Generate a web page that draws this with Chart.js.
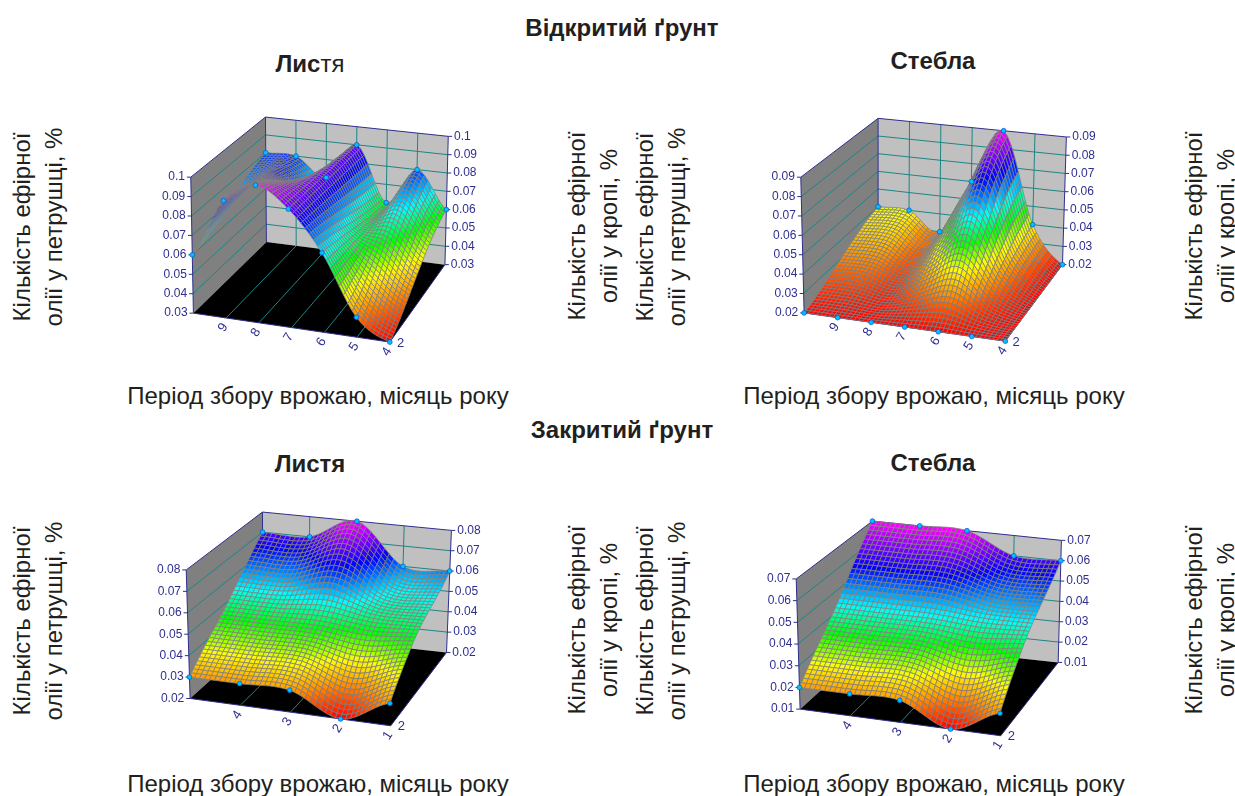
<!DOCTYPE html>
<html>
<head>
<meta charset="utf-8">
<script src="https://cdn.jsdelivr.net/npm/chart.js@4"></script>
<style>
  html, body { margin: 0; padding: 0; background: #fff; }
  body { position: relative; width: 1235px; height: 796px; overflow: hidden; font-family: "Liberation Sans", Arial, sans-serif; color: #231f20; }
  canvas { position: absolute; }
  .txt { position: absolute; white-space: nowrap; text-align: center; transform: translate(-50%, -50%); }
  .head { font-weight: bold; font-size: 24px; }
  .head span { font-weight: normal; }
  .xtitle { font-size: 24px; }
  .ytitle { font-size: 24px; line-height: 32px; transform: translate(-50%, -50%) rotate(-90deg); }
</style>
</head>
<body>
<script>
// values: one row of the surface for each series (front = 1, back = 2)
const openMonths = ['', '9', '8', '7', '6', '5', '4'];
const closedMonths = ['', '4', '3', '2', '1'];

const openLeafFront = [0.06, 0.09, 0.10, 0.09, 0.07, 0.04, 0.03];
const openLeafBack = [0.08, 0.08, 0.07, 0.09, 0.06, 0.08, 0.06];
const openLeafTicks = [0.03, 0.04, 0.05, 0.06, 0.07, 0.08, 0.09, 0.1];

const openStemFront = [0.02, 0.02, 0.02, 0.02, 0.02, 0.02, 0.02];
const openStemBack = [0.04, 0.04, 0.03, 0.06, 0.09, 0.04, 0.02];
const openStemTicks = [0.02, 0.03, 0.04, 0.05, 0.06, 0.07, 0.08, 0.09];

const closedLeafFront = [0.03, 0.03, 0.03, 0.02, 0.03];
const closedLeafBack = [0.07, 0.07, 0.08, 0.06, 0.06];
const closedLeafTicks = [0.02, 0.03, 0.04, 0.05, 0.06, 0.07, 0.08];

const closedStemFront = [0.02, 0.02, 0.02, 0.01, 0.02];
const closedStemBack = [0.07, 0.07, 0.07, 0.06, 0.06];
const closedStemTicks = [0.01, 0.02, 0.03, 0.04, 0.05, 0.06, 0.07];

// box corners in page pixels: fl/fr/bl/br floor, t* the same corners at the top value
// reach = how far into the depth a row's bumps carry before they flatten out
const panels = [
  { months: openMonths, front: openLeafFront, back: openLeafBack, ticks: openLeafTicks, cols: 48, reach: 1,
    fl: [190, 316], fr: [391.7, 346], bl: [265, 242.3], br: [448.3, 265.7],
    tfl: [187.3, 175], tfr: [386.5, 200], tbl: [264, 112.7], tbr: [451.7, 132.7] },
  { months: openMonths, front: openStemFront, back: openStemBack, ticks: openStemTicks, cols: 48, reach: 1,
    fl: [800.7, 315.7], fr: [1007.3, 345], bl: [876.7, 242.3], br: [1066, 265.7],
    tfl: [797.3, 175], tfr: [1002, 200], tbl: [876.7, 114], tbr: [1070, 133.3] },
  { months: closedMonths, front: closedLeafFront, back: closedLeafBack, ticks: closedLeafTicks, cols: 40, reach: 0.6,
    fl: [186.7, 701], fr: [392.7, 729.3], bl: [261.7, 632.7], br: [450, 653.3],
    tfl: [182.7, 567.7], tfr: [388, 590], tbl: [261, 507.7], tbr: [455, 526.7] },
  { months: closedMonths, front: closedStemFront, back: closedStemBack, ticks: closedStemTicks, cols: 40, reach: 0.6,
    fl: [796.7, 711.7], fr: [1002.7, 739.3], bl: [871.7, 642.7], br: [1061.7, 663.3],
    tfl: [792.7, 576.7], tfr: [998, 600], tbl: [871, 516.7], tbr: [1065, 536.7] }
];

const headings = [
  ['Відкритий ґрунт', 622, 28], ['Лис<span>тя</span>', 310, 64], ['Стебла', 933, 61],
  ['Закритий ґрунт', 622, 430], ['Листя', 310, 464], ['Стебла', 933, 463]
];
const xTitle = 'Період збору врожаю, місяць року';
const xTitlePos = [[318, 396], [934, 396], [318, 784], [934, 784]];
const parsleyTitle = 'Кількість ефірної<br>олії у петрушці, %';
const dillTitle = 'Кількість ефірної<br>олії у кропі, %';
const yTitlePos = [
  [parsleyTitle, 38, 227], [dillTitle, 593, 226], [parsleyTitle, 661, 227], [dillTitle, 1210, 226],
  [parsleyTitle, 38, 621], [dillTitle, 593, 620], [parsleyTitle, 661, 621], [dillTitle, 1210, 620]
];

function addText(html, cls, x, y) {
  const el = document.createElement('div');
  el.className = 'txt ' + cls;
  el.innerHTML = html;
  el.style.left = x + 'px';
  el.style.top = y + 'px';
  document.body.appendChild(el);
}
headings.forEach(h => addText(h[0], 'head', h[1], h[2]));
xTitlePos.forEach(p => addText(xTitle, 'xtitle', p[0], p[1]));
yTitlePos.forEach(p => addText(p[0], 'ytitle', p[1], p[2]));

const AXIS = '#2e2e8f';
const GRID = '#1d8585';

function lerp(a, b, t) { return [a[0] + (b[0] - a[0]) * t, a[1] + (b[1] - a[1]) * t]; }

// u along the months, t front to back, h bottom to top of the box (all 0..1)
function project(p, u, t, h) {
  const floor = lerp(lerp(p.fl, p.fr, u), lerp(p.bl, p.br, u), t);
  const top = lerp(lerp(p.tfl, p.tfr, u), lerp(p.tbl, p.tbr, u), t);
  return lerp(floor, top, h);
}

function heightOf(p, v) {
  const lo = p.ticks[0], hi = p.ticks[p.ticks.length - 1];
  return (v - lo) / (hi - lo);
}

// smooth curve through one row of values
function rowValue(row, x) {
  const n = row.length - 1;
  const i = Math.min(Math.floor(x), n - 1);
  const f = x - i;
  const a = row[Math.max(i - 1, 0)], b = row[i], c = row[i + 1], d = row[Math.min(i + 2, n)];
  return b + 0.5 * f * (c - a + f * (2 * a - 5 * b + 4 * c - d + f * (3 * (b - c) + d - a)));
}

function smooth(t) { return t * t * (3 - 2 * t); }
function mean(row) { return row.reduce((s, v) => s + v, 0) / row.length; }

function surfaceValue(p, u, t) {
  const x = u * (p.front.length - 1);
  const f = rowValue(p.front, x), b = rowValue(p.back, x);
  if (p.reach >= 1) {
    const s = (t + smooth(t)) / 2;
    return f * (1 - s) + b * s;
  }
  const fm = mean(p.front), bm = mean(p.back);
  const fw = 1 - smooth(Math.min(t / p.reach, 1));
  const bw = 1 - smooth(Math.min((1 - t) / p.reach, 1));
  return fm * (1 - t) + bm * t + (f - fm) * fw + (b - bm) * bw;
}

const hueStops = [[0, 0], [0.28, 60], [0.42, 120], [0.56, 180], [0.76, 240], [1, 300]];
function hueOf(h) {
  h = Math.max(0, Math.min(1, h));
  for (let i = 1; i < hueStops.length; i++) {
    if (h <= hueStops[i][0]) {
      const a = hueStops[i - 1], b = hueStops[i];
      return a[1] + (b[1] - a[1]) * (h - a[0]) / (b[0] - a[0]);
    }
  }
  return 300;
}

function line(ctx, chart, a, b) {
  ctx.beginPath();
  ctx.moveTo(chart.scales.x.getPixelForValue(a[0]), chart.scales.y.getPixelForValue(a[1]));
  ctx.lineTo(chart.scales.x.getPixelForValue(b[0]), chart.scales.y.getPixelForValue(b[1]));
  ctx.stroke();
}

function poly(ctx, chart, pts) {
  ctx.beginPath();
  pts.forEach((q, i) => {
    const x = chart.scales.x.getPixelForValue(q[0]), y = chart.scales.y.getPixelForValue(q[1]);
    if (i === 0) ctx.moveTo(x, y); else ctx.lineTo(x, y);
  });
  ctx.closePath();
}

const box3d = {
  id: 'box3d',
  beforeDatasetsDraw(chart, args, opts) {
    const p = opts.panel, ctx = chart.ctx;
    const sx = chart.scales.x, sy = chart.scales.y;
    ctx.save();

    // walls and floor
    ctx.fillStyle = '#808080';
    poly(ctx, chart, [p.fl, p.bl, p.tbl, p.tfl]); ctx.fill();
    ctx.fillStyle = '#c0c0c0';
    poly(ctx, chart, [p.bl, p.br, p.tbr, p.tbl]); ctx.fill();
    ctx.fillStyle = '#000';
    poly(ctx, chart, [p.fl, p.fr, p.br, p.bl]); ctx.fill();

    // grid lines
    ctx.strokeStyle = GRID;
    ctx.lineWidth = 1;
    p.ticks.forEach((v, i) => {
      if (i === 0 || i === p.ticks.length - 1) return;
      const h = heightOf(p, v);
      line(ctx, chart, project(p, 0, 0, h), project(p, 0, 1, h));
      line(ctx, chart, project(p, 0, 1, h), project(p, 1, 1, h));
    });
    const n = p.months.length - 1;
    for (let i = 1; i < n; i++) {
      line(ctx, chart, project(p, i / n, 1, 0), project(p, i / n, 1, 1));
      line(ctx, chart, project(p, i / n, 0, 0), project(p, i / n, 1, 0));
    }

    // box edges, ticks
    ctx.strokeStyle = AXIS;
    line(ctx, chart, p.fl, p.tfl);
    line(ctx, chart, p.tfl, p.tbl);
    line(ctx, chart, p.tbl, p.tbr);
    line(ctx, chart, p.tbl, p.bl);
    line(ctx, chart, p.br, p.tbr);
    line(ctx, chart, p.fl, p.fr);
    line(ctx, chart, p.fr, p.br);

    ctx.font = '12px "Liberation Sans", Arial, sans-serif';
    ctx.fillStyle = AXIS;
    ctx.textBaseline = 'middle';
    p.ticks.forEach(v => {
      const h = heightOf(p, v);
      const l = project(p, 0, 0, h), r = project(p, 1, 1, h);
      line(ctx, chart, l, [l[0] - 4, l[1]]);
      line(ctx, chart, r, [r[0] + 4, r[1]]);
      ctx.textAlign = 'right';
      ctx.fillText(String(v), sx.getPixelForValue(l[0] - 6), sy.getPixelForValue(l[1]));
      ctx.textAlign = 'left';
      ctx.fillText(String(v), sx.getPixelForValue(r[0] + 6), sy.getPixelForValue(r[1]));
    });

    // month labels along the front edge, series label at the corner
    ctx.textAlign = 'center';
    ctx.font = '13px "Liberation Sans", Arial, sans-serif';
    p.months.forEach((m, i) => {
      const q = project(p, i / n, 0, 0);
      ctx.save();
      ctx.translate(sx.getPixelForValue(q[0] - 3), sy.getPixelForValue(q[1] + 10));
      ctx.rotate(-Math.PI * 0.32);
      ctx.fillText(m, 0, 0);
      ctx.restore();
    });
    ctx.fillText('2', sx.getPixelForValue(p.fr[0] + 11), sy.getPixelForValue(p.fr[1] + 1));

    // surface, far corner first
    const cols = p.cols, rows = 36;
    ctx.strokeStyle = 'rgba(130,130,130,0.85)';
    ctx.lineWidth = 0.9;
    for (let j = rows - 1; j >= 0; j--) {
      for (let i = 0; i < cols; i++) {
        const u0 = i / cols, u1 = (i + 1) / cols, t0 = j / rows, t1 = (j + 1) / rows;
        const v = surfaceValue(p, (u0 + u1) / 2, (t0 + t1) / 2);
        ctx.fillStyle = 'hsl(' + hueOf(heightOf(p, v)) + ',100%,50%)';
        poly(ctx, chart, [
          project(p, u0, t0, heightOf(p, surfaceValue(p, u0, t0))),
          project(p, u1, t0, heightOf(p, surfaceValue(p, u1, t0))),
          project(p, u1, t1, heightOf(p, surfaceValue(p, u1, t1))),
          project(p, u0, t1, heightOf(p, surfaceValue(p, u0, t1)))
        ]);
        ctx.fill();
        ctx.stroke();
      }
    }
    ctx.restore();
  }
};

panels.forEach(p => {
  const left = Math.round(p.fl[0]) - 50, top = Math.round(p.tbl[1]) - 10;
  const width = 360, height = 265;
  const canvas = document.createElement('canvas');
  canvas.width = width;
  canvas.height = height;
  canvas.style.left = left + 'px';
  canvas.style.top = top + 'px';
  document.body.appendChild(canvas);

  const n = p.months.length - 1;
  const points = [];
  [p.front, p.back].forEach((row, k) => {
    row.forEach((v, i) => {
      const q = project(p, i / n, k, heightOf(p, v));
      points.push({ x: q[0], y: q[1] });
    });
  });

  new Chart(canvas, {
    type: 'scatter',
    data: {
      datasets: [{
        data: points,
        pointRadius: 2.4,
        pointBackgroundColor: '#00c0ff',
        pointBorderColor: '#0a50c8',
        pointBorderWidth: 0.7,
        clip: false
      }]
    },
    options: {
      responsive: false,
      animation: false,
      layout: { padding: 0 },
      scales: {
        x: { display: false, min: left, max: left + width },
        y: { display: false, min: top, max: top + height, reverse: true }
      },
      plugins: { legend: { display: false }, tooltip: { enabled: false }, box3d: { panel: p } }
    },
    plugins: [box3d]
  });
});
</script>
</body>
</html>
